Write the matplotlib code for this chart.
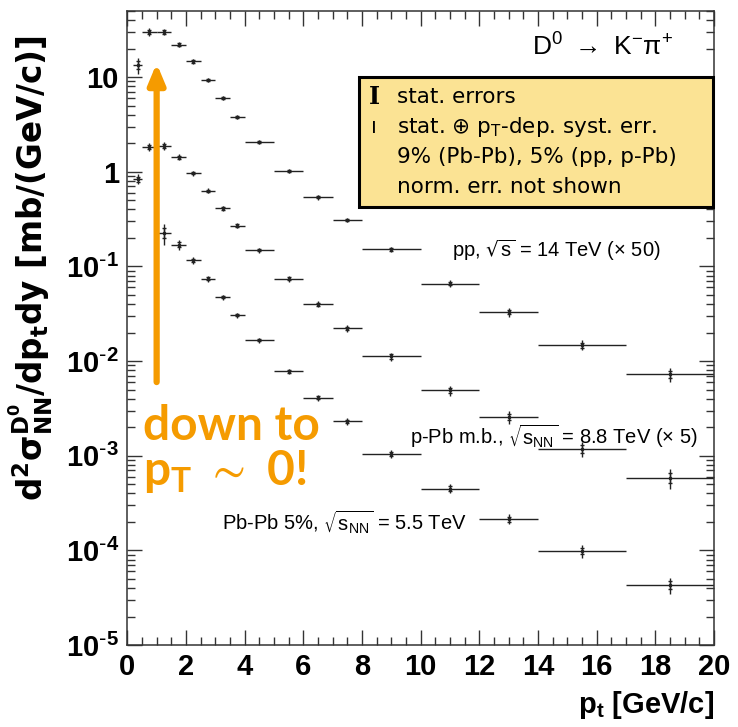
import matplotlib
matplotlib.use("Agg")
import matplotlib.pyplot as plt
import numpy as np
from matplotlib.patches import Rectangle
from matplotlib.ticker import FixedLocator, FuncFormatter, MultipleLocator

plt.rcParams["font.family"] = ["Liberation Sans", "DejaVu Sans"]
plt.rcParams["mathtext.default"] = "regular"

# pt bins (centre, half width)
pt = [0.35, 0.75, 1.25, 1.75, 2.25, 2.75, 3.25, 3.75, 4.5, 5.5, 6.5, 7.5, 9, 11, 13, 15.5, 18.5]
pt_half = [0.15, 0.25, 0.25, 0.25, 0.25, 0.25, 0.25, 0.25, 0.5, 0.5, 0.5, 0.5, 1, 1, 1, 1.5, 1.5]

# pp, sqrt(s)=14 TeV (x50)
pp = [13.4, 30.0, 30.0, 22.1, 14.7, 9.3, 5.97, 3.82, 2.08, 1.02, 0.54, 0.31,
      0.151, 0.066, 0.0328, 0.0148, 0.0073]
pp_tot = [0.20, 0.10, 0.08, 0.06, 0.06, 0.05, 0.05, 0.05, 0.05, 0.05, 0.06, 0.06,
          0.07, 0.09, 0.10, 0.12, 0.17]

# p-Pb m.b., sqrt(sNN)=8.8 TeV (x5)
ppb = [0.84, 1.85, 1.89, 1.43, 0.97, 0.63, 0.41, 0.27, 0.149, 0.074, 0.040, 0.0222,
       0.0112, 0.0049, 0.00257, 0.00118, 0.00058]
ppb_tot = [0.12, 0.10, 0.10, 0.07, 0.06, 0.06, 0.06, 0.06, 0.06, 0.07, 0.07, 0.08,
           0.10, 0.12, 0.15, 0.18, 0.24]

# Pb-Pb 5%, sqrt(sNN)=5.5 TeV (starts at pt=1.25)
pbpb = [0.226, 0.17, 0.116, 0.074, 0.0475, 0.0307, 0.0167, 0.0078, 0.0041, 0.0023,
        0.00105, 0.00045, 0.000214, 9.8e-5, 4.3e-5]
pbpb_tot = [0.25, 0.12, 0.08, 0.07, 0.06, 0.06, 0.06, 0.06, 0.07, 0.08, 0.09, 0.11,
            0.12, 0.15, 0.20]
STAT_FRAC = 0.5  # stat part of the total error bar

W, H = 738, 727
fig = plt.figure(figsize=(W / 100, H / 100), dpi=100)
ax = fig.add_axes([127.3 / W, 1 - 645 / H, (714 - 127.3) / W, (645 - 11) / H])


def fx(x):
    return x / W


def fy(y):
    return 1 - y / H


def draw(x, xh, y, tot):
    x = np.asarray(x); y = np.asarray(y); tot = np.asarray(tot)
    ax.errorbar(x, y, xerr=xh, yerr=y * tot, fmt="none", ecolor="#222222",
                elinewidth=1.0, capsize=0)
    ax.errorbar(x, y, yerr=y * tot * STAT_FRAC, fmt="none", ecolor="#222222",
                elinewidth=1.0, capsize=1.6, capthick=1.0)
    ax.plot(x, y, "o", ms=1.6, color="#222222")


draw(pt, pt_half, pp, pp_tot)
draw(pt, pt_half, ppb, ppb_tot)
draw(pt[2:], pt_half[2:], pbpb, pbpb_tot)

ax.set_yscale("log")
ax.set_xlim(0, 20)
ax.set_ylim(1e-5, 50)
ax.xaxis.set_major_locator(MultipleLocator(2))
ax.xaxis.set_minor_locator(MultipleLocator(0.5))
ax.yaxis.set_major_locator(FixedLocator([1e-5, 1e-4, 1e-3, 1e-2, 1e-1, 1, 10]))
ax.yaxis.set_minor_locator(FixedLocator([m * 10.0 ** e for e in range(-5, 2)
                                         for m in range(2, 10)]))


def ylab(v, pos):
    e = int(round(np.log10(v)))
    if e == 1:
        return "10"
    if e == 0:
        return "1"
    return r"10$^{\text{-}%d}$" % (-e)


ax.yaxis.set_major_formatter(FuncFormatter(ylab))
ax.yaxis.set_minor_formatter(FuncFormatter(lambda v, p: ""))
ax.tick_params(which="both", direction="in", top=True, right=True, width=1.0,
               color="#333333")
ax.tick_params(which="major", length=11, labelsize=21, pad=6)
ax.tick_params(which="minor", length=5.5)
for lab in ax.get_xticklabels() + ax.get_yticklabels():
    lab.set_fontweight("bold")
for s in ax.spines.values():
    s.set_linewidth(1.1)
    s.set_color("#333333")

fig.text(fx(31), fy(268), r"d$^{2}\sigma^{D^{0}}_{NN}$/dp$_{t}$dy [mb/(GeV/c)]",
         rotation=90, ha="center", va="center", fontsize=23.5, fontweight="bold",
         family="DejaVu Sans")
fig.text(fx(714), fy(705), r"p$_{t}$ [GeV/c]", ha="right", va="center",
         fontsize=21, fontweight="bold")

fig.text(fx(603), fy(47), r"D$^{0}$ $\rightarrow$ K$^{-}$$\pi^{+}$", ha="center",
         va="center", fontsize=19)

# legend box
box = Rectangle((fx(359), fy(207)), (713 - 359) / W, (207 - 77) / H,
                transform=fig.transFigure, facecolor="#FBE394", edgecolor="black",
                linewidth=2.2, zorder=5)
fig.patches.append(box)
bf = dict(fontsize=15.5, family="DejaVu Sans", va="center", zorder=6)
fig.text(fx(374), fy(97), "I", ha="center", fontsize=17, family="DejaVu Serif",
         fontweight="bold", va="center", zorder=6)
fig.text(fx(374), fy(127), "ı", ha="center", **bf)
fig.text(fx(397), fy(97), "stat. errors", **bf)
fig.text(fx(397), fy(127), r"stat. $\oplus$ p$_{T}$-dep. syst. err.", **bf)
fig.text(fx(397), fy(157), "9% (Pb-Pb), 5% (pp, p-Pb)", **bf)
fig.text(fx(397), fy(187), "norm. err. not shown", **bf)

fig.text(fx(452), fy(250), r"pp, $\sqrt{s}$ = 14 TeV ($\times$ 50)", va="center",
         fontsize=14.5)
fig.text(fx(410), fy(436), r"p-Pb m.b., $\sqrt{s_{NN}}$ = 8.8 TeV ($\times$ 5)",
         va="center", fontsize=14.5)
fig.text(fx(222), fy(522), r"Pb-Pb 5%, $\sqrt{s_{NN}}$ = 5.5 TeV", va="center",
         fontsize=14.5)

orange = "#F59B00"
ax.annotate("", xy=(1.0, 14.0), xytext=(1.0, 0.006),
            arrowprops=dict(arrowstyle="-|>,head_length=1.2,head_width=0.5",
                            color=orange, lw=4.5, shrinkA=0, shrinkB=0))
fig.text(fx(143), fy(440), "down to", color=orange, fontsize=34.5,
         fontweight="bold", family="Lato", va="baseline")
fig.text(fx(143), fy(485), r"p$_{T}$ $\sim$ 0!", color=orange, fontsize=34.5,
         fontweight="bold", family="Lato", va="baseline")

fig.savefig("out.png", dpi=100)
